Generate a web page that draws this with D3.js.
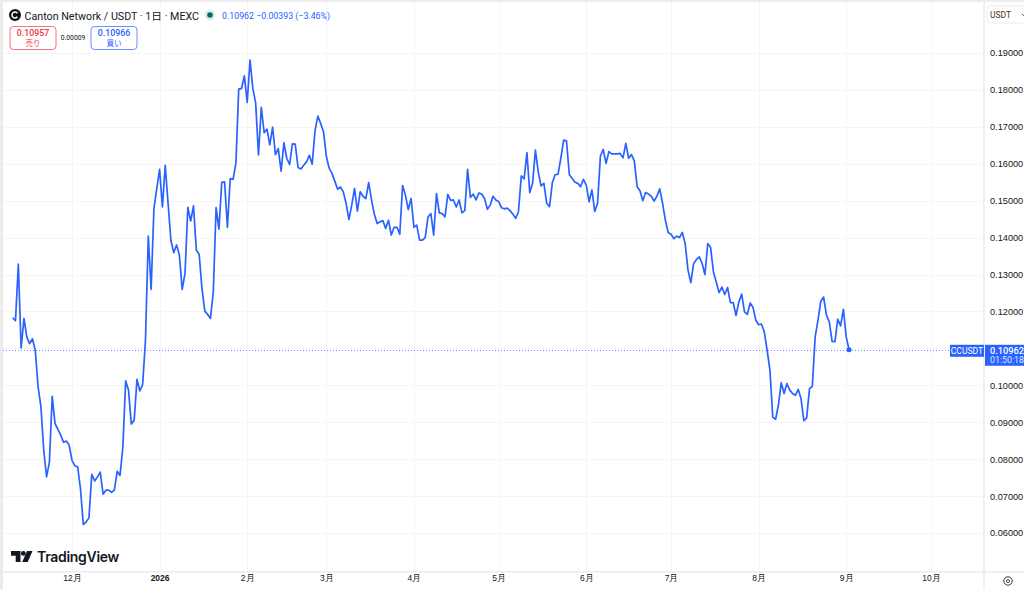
<!DOCTYPE html>
<html>
<head>
<meta charset="utf-8">
<script src="https://cdn.jsdelivr.net/npm/d3@7"></script>
<style>
  html, body { margin: 0; padding: 0; background: #fff; overflow: hidden; }
  svg { display: block; font-family: Roboto, "Noto Sans CJK JP", sans-serif; }
  .domain { display: none; }
  .tick line { display: none; }
</style>
</head>
<body>
<div id="chart"></div>
<script>
const startDate = Date.UTC(2025, 10, 10);

const closes = [
  0.1183, 0.1175, 0.1328, 0.1101, 0.1181, 0.1131, 0.1113, 0.1126, 0.1095, 0.0996,
  0.0942, 0.0824, 0.0752, 0.0792, 0.0970, 0.0896, 0.0881, 0.0865, 0.0846, 0.0849,
  0.0838, 0.0797, 0.0782, 0.0779, 0.0720, 0.0623, 0.0630, 0.0641, 0.0759, 0.0741,
  0.0752, 0.0765, 0.0705, 0.0716, 0.0716, 0.0710, 0.0717, 0.0767, 0.0756, 0.0833,
  0.1012, 0.0987, 0.0895, 0.0905, 0.1016, 0.0985, 0.1002, 0.1122,
  0.1404, 0.1260, 0.1479, 0.1533, 0.1585, 0.1483, 0.1596, 0.1493, 0.1393, 0.1359,
  0.1380, 0.1353, 0.1260, 0.1303, 0.1482, 0.1445, 0.1486, 0.1366, 0.1355, 0.1262,
  0.1201, 0.1192, 0.1181, 0.1253, 0.1481, 0.1423, 0.1550, 0.1551, 0.1428, 0.1560,
  0.1558, 0.1601, 0.1802, 0.1804, 0.1838, 0.1766, 0.1881, 0.1804, 0.1764, 0.1624,
  0.1753, 0.1684, 0.1694, 0.1651, 0.1699, 0.1625, 0.1641, 0.1580, 0.1657, 0.1615,
  0.1598, 0.1654, 0.1653, 0.1590, 0.1586, 0.1596, 0.1605, 0.1623, 0.1599, 0.1689,
  0.1729, 0.1709, 0.1687, 0.1621, 0.1588,
  0.1574, 0.1553, 0.1531, 0.1537, 0.1524, 0.1493, 0.1449, 0.1488, 0.1533, 0.1472,
  0.1524, 0.1512, 0.1506, 0.1549, 0.1502, 0.1463, 0.1438, 0.1443, 0.1446, 0.1425,
  0.1447, 0.1407, 0.1428, 0.1428, 0.1409, 0.1541, 0.1515, 0.1476, 0.1506, 0.1428,
  0.1434, 0.1393, 0.1393, 0.1400, 0.1456, 0.1465, 0.1407, 0.1519, 0.1467, 0.1465,
  0.1456, 0.1517, 0.1501, 0.1502, 0.1483, 0.1502, 0.1467, 0.1473, 0.1585, 0.1509,
  0.1518, 0.1502, 0.1521, 0.1518, 0.1506, 0.1477, 0.1488, 0.1512, 0.1502, 0.1498,
  0.1481, 0.1478, 0.1480, 0.1473, 0.1464, 0.1452, 0.1470,
  0.1567, 0.1559, 0.1630, 0.1522, 0.1547, 0.1637, 0.1578, 0.1540, 0.1547, 0.1493,
  0.1484, 0.1549, 0.1571, 0.1571, 0.1615, 0.1664, 0.1662, 0.1571, 0.1560, 0.1550,
  0.1547, 0.1538, 0.1558, 0.1542, 0.1497, 0.1529, 0.1471, 0.1493, 0.1621, 0.1639,
  0.1601, 0.1633, 0.1627, 0.1627, 0.1627, 0.1628, 0.1616, 0.1655, 0.1615, 0.1625,
  0.1608, 0.1538, 0.1527, 0.1500, 0.1522, 0.1518, 0.1512, 0.1499, 0.1512, 0.1532,
  0.1493, 0.1447, 0.1414, 0.1409, 0.1397, 0.1404, 0.1400, 0.1414, 0.1384, 0.1312,
  0.1278, 0.1330, 0.1341, 0.1348, 0.1330, 0.1300, 0.1384,
  0.1373, 0.1307, 0.1280, 0.1251, 0.1266, 0.1246, 0.1265, 0.1224, 0.1224, 0.1189,
  0.1226, 0.1247, 0.1199, 0.1192, 0.1223, 0.1211, 0.1176, 0.1164, 0.1166, 0.1145,
  0.1095, 0.1041, 0.0914, 0.0908, 0.0946, 0.1007, 0.0978, 0.1005, 0.0987, 0.0978,
  0.0973, 0.0989, 0.0964, 0.0904, 0.0912, 0.0991, 0.0997, 0.1131, 0.1176, 0.1228,
  0.1239, 0.1190, 0.1172, 0.1119, 0.1118, 0.1179, 0.1161, 0.1206, 0.1131, 0.10962
];

const priceTicks = [0.06, 0.07, 0.08, 0.09, 0.10, 0.11, 0.12, 0.13, 0.14, 0.15, 0.16, 0.17, 0.18, 0.19];
const hiddenTicks = [0.11]; // covered by the last price badge
const monthTicks = [
  [2025, 11, "12月"], [2026, 0, "2026"], [2026, 1, "2月"], [2026, 2, "3月"], [2026, 3, "4月"], [2026, 4, "5月"],
  [2026, 5, "6月"], [2026, 6, "7月"], [2026, 7, "8月"], [2026, 8, "9月"], [2026, 9, "10月"]
];
const lastPrice = 0.10962;

const width = 1024, height = 590;
const blue = "#2962ff";

const x = d3.scaleUtc()
  .domain([Date.UTC(2025, 11, 1), Date.UTC(2026, 9, 1)])
  .range([72, 931]);
const y = d3.scaleLinear()
  .domain([0.06, 0.19])
  .range([533, 53]);

const svg = d3.select("#chart").append("svg")
  .attr("width", width)
  .attr("height", height);

const monthDates = monthTicks.map(d => new Date(Date.UTC(d[0], d[1], 1)));

// grid
svg.append("g").selectAll("line").data(priceTicks).enter().append("line")
  .attr("x1", 3).attr("x2", 983)
  .attr("y1", d => Math.round(y(d)) + 0.5).attr("y2", d => Math.round(y(d)) + 0.5)
  .attr("stroke", "#f5f5f6");
svg.append("g").selectAll("line").data(monthDates).enter().append("line")
  .attr("x1", d => Math.round(x(d)) + 0.5).attr("x2", d => Math.round(x(d)) + 0.5)
  .attr("y1", 2).attr("y2", 571)
  .attr("stroke", "#f5f5f6");

// frame
svg.append("rect").attr("x", 0).attr("y", 0).attr("width", 3).attr("height", height).attr("fill", "#ececed");
svg.append("rect").attr("x", 0).attr("y", 0).attr("width", width).attr("height", 2).attr("fill", "#ececed");
svg.append("rect").attr("x", 983).attr("y", 0).attr("width", 2).attr("height", height).attr("fill", "#f0f0f1");
svg.append("rect").attr("x", 3).attr("y", 571).attr("width", width).attr("height", 1.5).attr("fill", "#ececed");

// last price line
svg.append("line")
  .attr("x1", 3).attr("x2", 950)
  .attr("y1", Math.round(y(lastPrice)) + 0.5).attr("y2", Math.round(y(lastPrice)) + 0.5)
  .attr("stroke", blue).attr("stroke-opacity", 0.7)
  .attr("stroke-dasharray", "1 2");

// price line
const line = d3.line()
  .x((d, i) => x(startDate + i * 86400000))
  .y(d => y(d));

svg.append("path")
  .datum(closes)
  .attr("fill", "none")
  .attr("stroke", blue)
  .attr("stroke-width", 1.7)
  .attr("stroke-linejoin", "round")
  .attr("d", line);

svg.append("circle")
  .attr("cx", x(startDate + (closes.length - 1) * 86400000))
  .attr("cy", y(lastPrice))
  .attr("r", 2.5)
  .attr("fill", blue);

// axes
const yAxis = d3.axisRight(y)
  .tickValues(priceTicks.filter(d => !hiddenTicks.includes(d)))
  .tickFormat(d3.format(".5f"))
  .tickSize(0);
svg.append("g").attr("transform", "translate(990,0)").call(yAxis)
  .call(g => g.selectAll("text").attr("x", 0).attr("fill", "#131722").attr("font-size", 9.2));

const xAxis = d3.axisBottom(x)
  .tickValues(monthDates)
  .tickFormat((d, i) => monthTicks[i][2])
  .tickSize(0);
svg.append("g").attr("transform", "translate(0,575)").call(xAxis)
  .call(g => g.selectAll("text").attr("y", 0).attr("dy", "0.71em").attr("fill", "#131722").attr("font-size", 8.5)
    .attr("font-weight", d => d.getUTCFullYear() === 2026 && d.getUTCMonth() === 0 ? 700 : 400));

// header
svg.append("circle").attr("cx", 15).attr("cy", 15).attr("r", 6).attr("fill", "#111");
svg.append("path").attr("d", "M17.4 13.2 A3 3 0 1 0 17.4 16.8").attr("fill", "none").attr("stroke", "#fff").attr("stroke-width", 1.5);
svg.append("text").attr("x", 24.5).attr("y", 19.5).attr("font-size", 10.7).attr("fill", "#131722")
  .text("Canton Network / USDT · 1日 · MEXC");
svg.append("circle").attr("cx", 210).attr("cy", 15).attr("r", 5.5).attr("fill", "#dff0ec");
svg.append("circle").attr("cx", 210).attr("cy", 15).attr("r", 2.8).attr("fill", "#0b6b5a");
svg.append("text").attr("x", 222).attr("y", 19).attr("font-size", 8.8).attr("fill", blue)
  .text("0.10962  −0.00393 (−3.46%)");

function quote(bx, color, price, label) {
  svg.append("rect").attr("x", bx).attr("y", 26.5).attr("width", 46).attr("height", 23).attr("rx", 3.5)
    .attr("fill", "#fff").attr("stroke", color).attr("stroke-opacity", 0.7);
  svg.append("text").attr("x", bx + 23).attr("y", 36).attr("text-anchor", "middle")
    .attr("font-size", 8.8).attr("font-weight", 500).attr("fill", color).text(price);
  svg.append("text").attr("x", bx + 23).attr("y", 46).attr("text-anchor", "middle")
    .attr("font-size", 7.5).attr("fill", color).text(label);
}
quote(10, "#f23645", "0.10957", "売り");
quote(91, blue, "0.10966", "買い");
svg.append("text").attr("x", 73).attr("y", 40).attr("text-anchor", "middle").attr("font-size", 6.8)
  .attr("fill", "#131722").text("0.00009");

// currency button
svg.append("rect").attr("x", 987).attr("y", 6).attr("width", 44).attr("height", 17).attr("rx", 3)
  .attr("fill", "#fff").attr("stroke", "#ececed");
svg.append("text").attr("x", 990).attr("y", 18).attr("font-size", 8.5).attr("fill", "#4a2f2a").text("USDT");
svg.append("path").attr("d", "M1022 14l1.5 1.5 1.5-1.5").attr("fill", "none").attr("stroke", "#444");

// last price badges
svg.append("rect").attr("x", 950).attr("y", y(lastPrice) - 5).attr("width", 34).attr("height", 12).attr("fill", blue);
svg.append("text").attr("x", 967).attr("y", y(lastPrice) + 4.2).attr("text-anchor", "middle")
  .attr("font-size", 8.6).attr("fill", "#fff").text("CCUSDT");
svg.append("rect").attr("x", 985).attr("y", y(lastPrice) - 5).attr("width", 39).attr("height", 21).attr("fill", blue);
svg.append("text").attr("x", 990).attr("y", y(lastPrice) + 4).attr("font-size", 9.2).attr("font-weight", 500).attr("fill", "#fff")
  .text(d3.format(".5f")(lastPrice));
svg.append("text").attr("x", 990).attr("y", y(lastPrice) + 13.5).attr("font-size", 8.8).attr("fill", "#dfe6ff").text("01:50:18");

// TradingView logo
svg.append("path").attr("d", "M11 551h9.5v11h-4.8v-6.2H11z M27 551h5.5l-4.8 11h-5.5z").attr("fill", "#131722");
svg.append("circle").attr("cx", 23.3).attr("cy", 553.4).attr("r", 2.4).attr("fill", "#131722");
svg.append("text").attr("x", 37).attr("y", 561.5).attr("font-size", 14).attr("font-weight", 600)
  .attr("font-family", "Inter, Roboto, sans-serif").attr("letter-spacing", -0.3).attr("fill", "#131722").text("TradingView");

// settings icon
svg.append("circle").attr("cx", 1008).attr("cy", 581).attr("r", 4.2).attr("fill", "none").attr("stroke", "#333").attr("stroke-width", 1);
svg.append("circle").attr("cx", 1008).attr("cy", 581).attr("r", 1.5).attr("fill", "none").attr("stroke", "#333").attr("stroke-width", 0.9);
</script>
</body>
</html>
